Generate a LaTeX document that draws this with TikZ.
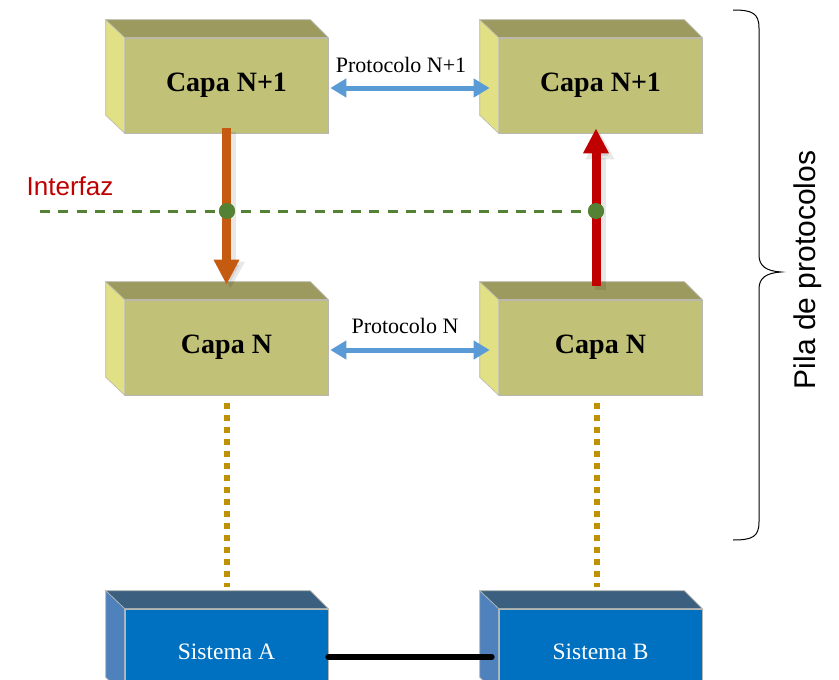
\documentclass[tikz,border=0pt]{standalone}
\usepackage{fontspec}
\setmainfont{Liberation Serif}
\newfontfamily\labelsans{Liberation Sans}
\usetikzlibrary{calc,arrows.meta}
\definecolor{olivefront}{HTML}{C2C178}
\definecolor{olivetop}{HTML}{9C9A5E}
\definecolor{oliveside}{HTML}{E1E085}
\definecolor{sysfront}{HTML}{0070C0}
\definecolor{systop}{HTML}{3A5F7F}
\definecolor{sysside}{HTML}{4F81BD}
\definecolor{edgegray}{HTML}{B8B8B0}
\definecolor{protoblue}{HTML}{5B9BD5}
\definecolor{downorange}{HTML}{C55A11}
\definecolor{upred}{HTML}{C00000}
\definecolor{ifgreen}{HTML}{548235}
\definecolor{linkgold}{HTML}{BF9000}
\begin{document}
\begin{tikzpicture}[x=1pt,y=-1pt,
  layerbox/.style={minimum width=203pt,minimum height=95pt,inner sep=0pt,
    fill=olivefront,draw=edgegray,line width=0.6pt,
    font=\fontsize{28}{30}\selectfont\bfseries},
  sysbox/.style={minimum width=203pt,minimum height=86pt,inner sep=0pt,
    fill=sysfront,draw=edgegray,line width=0.6pt,text=white,
    font=\fontsize{23.5}{25}\selectfont},
  facestyle/.style={draw=edgegray,line width=0.6pt},
  protoarrow/.style={protoblue,line width=5pt,
    {Triangle[width=18pt,length=16pt]}-{Triangle[width=18pt,length=16pt]}},
  layerarrow/.style={line width=9pt,-{Triangle[width=24pt,length=25pt]}},
  arrowshadow/.style={black,opacity=0.09,line width=11pt,
    -{Triangle[width=27pt,length=27pt]},transform canvas={shift={(4pt,-4pt)}}},
  protolabel/.style={font=\fontsize{22}{24}\selectfont},
  ifdot/.style={circle,fill=ifgreen,minimum size=16pt,inner sep=0pt},
  ifline/.style={ifgreen,line width=3pt,dash pattern=on 10pt off 8.3pt},
  golddots/.style={linkgold,line width=6pt,dash pattern=on 6pt off 6pt},
]
\useasboundingbox (0,0) rectangle (839,680);
\clip (0,0) rectangle (839,680);

% front faces of the layer blocks
\node[layerbox] (c1) at (226.5,85.5) {Capa N+1};
\node[layerbox] (c2) at (600.5,85.5) {Capa N+1};
\node[layerbox] (c3) at (226.5,347.5) {Capa N};
\node[layerbox] (c4) at (600.5,347.5) {Capa N};
\node[sysbox] (sA) at (226.5,652) {Sistema A};
\node[sysbox] (sB) at (600.5,652) {Sistema B};

% top and left faces give each block its depth
\foreach \n/\t/\s in {c1/olivetop/oliveside,c2/olivetop/oliveside,
                      c3/olivetop/oliveside,c4/olivetop/oliveside,
                      sA/systop/sysside,sB/systop/sysside}{
  \path[facestyle,fill=\t] ($(\n.north west)+(-19,-18)$) -- ($(\n.north east)+(-18,-18)$)
        -- (\n.north east) -- (\n.north west) -- cycle;
  \path[facestyle,fill=\s] ($(\n.north west)+(-19,-18)$) -- (\n.north west)
        -- (\n.south west) -- ($(\n.south west)+(-19,-18)$) -- cycle;
}

% peer protocols
\node[protolabel] (p1) at (401,65) {Protocolo N+1};
\draw[protoarrow] ([xshift=2pt,yshift=-2.5pt]c1.east) -- ([xshift=-9pt,yshift=-2.5pt]c2.west);
\node[protolabel] (p2) at (405,326) {Protocolo N};
\draw[protoarrow] ([xshift=2pt,yshift=-2.5pt]c3.east) -- ([xshift=-9pt,yshift=-2.5pt]c4.west);

% interface line
\coordinate (ifstart) at (40,211);
\node[ifdot] (d1) at (227,211) {};
\node[ifdot] (d2) at (596,211) {};
\draw[ifline] (ifstart) -- (d2.center);
\node[text=upred,font=\labelsans\fontsize{26}{28}\selectfont] (interfaz) at (70,186) {Interfaz};

% service arrows between layers
\draw[arrowshadow] ([yshift=5pt]c1.south) -- ([yshift=15pt]c3.north);
\draw[layerarrow,downorange] ([yshift=5pt]c1.south) -- ([yshift=15pt]c3.north);
\node[ifdot] at (d1) {};
\draw[arrowshadow] ([xshift=-4.5pt,yshift=14pt]c4.north) -- ([xshift=-4.5pt,yshift=5pt]c2.south);
\draw[layerarrow,upred] ([xshift=-4.5pt,yshift=14pt]c4.north) -- ([xshift=-4.5pt,yshift=5pt]c2.south);
\node[ifdot] at (d2) {};

% links down to the systems
\draw[golddots] ([yshift=-8pt]c3.south) -- ([yshift=22pt]sA.north);
\draw[golddots] ([xshift=-3.5pt,yshift=-8pt]c4.south) -- ([xshift=-3.5pt,yshift=22pt]sB.north);
\draw[line width=6pt,line cap=round] ([yshift=-5pt]sA.east) -- ([xshift=-7pt,yshift=-5pt]sB.west);

% stack brace
\draw[line width=1pt] (733,10) .. controls (752,10) and (759,13) .. (759,28)
  -- (759,255) .. controls (759,266) and (766,271) .. (781,272)
  .. controls (766,273) and (759,278) .. (759,289)
  -- (759,522) .. controls (759,537) and (752,540) .. (733,540);
\node[rotate=90,font=\labelsans\fontsize{30}{32}\selectfont] (pila) at (808,270) {Pila de protocolos};
\end{tikzpicture}
\end{document}
